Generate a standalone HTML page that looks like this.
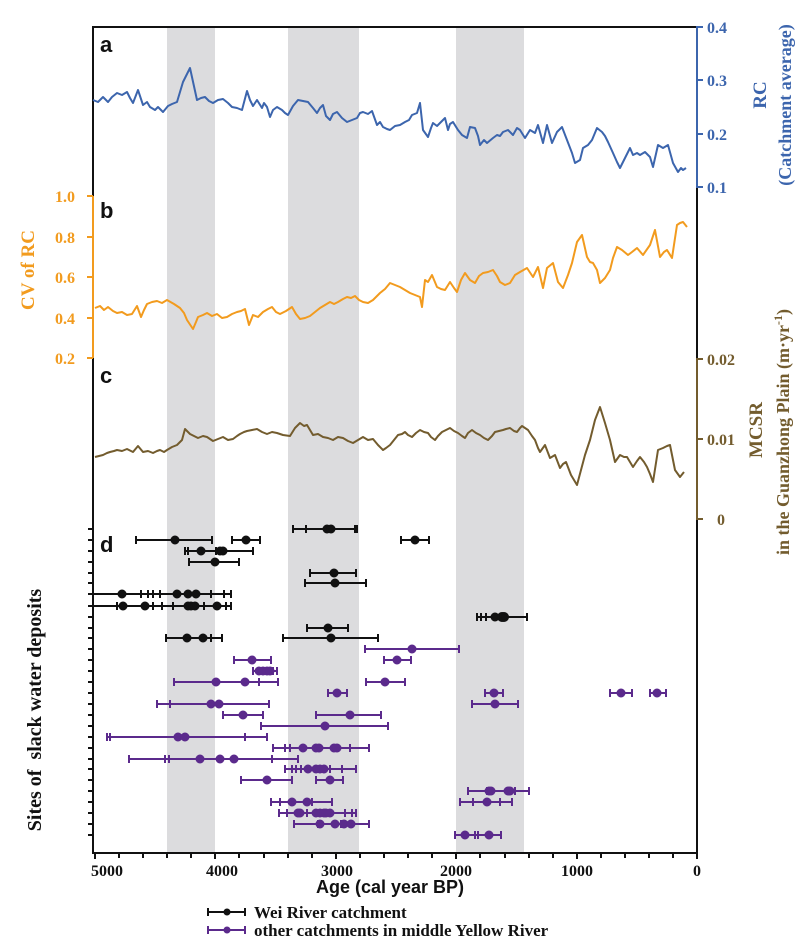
<!DOCTYPE html>
<html><head><meta charset="utf-8"><style>
html,body{margin:0;padding:0;background:#fff;}
svg{display:block;}
.ser{font-family:"Liberation Serif",serif;font-weight:bold;}
.san{font-family:"Liberation Sans",sans-serif;font-weight:bold;}
</style></head><body>
<svg width="799" height="951" viewBox="0 0 799 951" xmlns="http://www.w3.org/2000/svg">
<rect x="167" y="27" width="48" height="826" fill="#dcdcde"/>
<rect x="288" y="27" width="71" height="826" fill="#dcdcde"/>
<rect x="456" y="27" width="68" height="826" fill="#dcdcde"/>

<line x1="93" y1="27" x2="697" y2="27" stroke="#111" stroke-width="2"/>
<line x1="93" y1="26" x2="93" y2="196" stroke="#111" stroke-width="2"/>
<line x1="93" y1="196" x2="93" y2="358" stroke="#f29b1e" stroke-width="2"/>
<line x1="93" y1="358" x2="93" y2="854" stroke="#111" stroke-width="2"/>
<line x1="92" y1="853" x2="698" y2="853" stroke="#111" stroke-width="2"/>
<line x1="697" y1="26" x2="697" y2="188" stroke="#3c65ad" stroke-width="2"/>
<line x1="697" y1="188" x2="697" y2="358" stroke="#111" stroke-width="2"/>
<line x1="697" y1="358" x2="697" y2="520" stroke="#735c2e" stroke-width="2"/>
<line x1="697" y1="520" x2="697" y2="854" stroke="#111" stroke-width="2"/>

<g stroke="#3c65ad" stroke-width="2">
<line x1="697" y1="27" x2="703" y2="27"/><line x1="697" y1="80" x2="703" y2="80"/>
<line x1="697" y1="134" x2="703" y2="134"/><line x1="697" y1="187" x2="703" y2="187"/>
</g>
<g class="ser" fill="#3c65ad" font-size="16">
<text x="707" y="33">0.4</text><text x="707" y="86">0.3</text>
<text x="707" y="140">0.2</text><text x="707" y="193">0.1</text>
</g>
<text class="ser" fill="#3c65ad" font-size="19" transform="translate(766,95) rotate(-90)" text-anchor="middle">RC</text>
<text class="ser" fill="#3c65ad" font-size="18" transform="translate(791,105) rotate(-90)" text-anchor="middle">(Catchment average)</text>

<g stroke="#f29b1e" stroke-width="2">
<line x1="87" y1="196" x2="93" y2="196"/><line x1="87" y1="237" x2="93" y2="237"/>
<line x1="87" y1="277" x2="93" y2="277"/><line x1="87" y1="318" x2="93" y2="318"/>
<line x1="87" y1="358" x2="93" y2="358"/>
</g>
<g class="ser" fill="#f29b1e" font-size="16" text-anchor="end">
<text x="75" y="202">1.0</text><text x="75" y="243">0.8</text><text x="75" y="283">0.6</text>
<text x="75" y="324">0.4</text><text x="75" y="364">0.2</text>
</g>
<text class="ser" fill="#f29b1e" font-size="19" transform="translate(34,270) rotate(-90)" text-anchor="middle">CV of RC</text>

<g stroke="#735c2e" stroke-width="2">
<line x1="697" y1="359" x2="703" y2="359"/><line x1="697" y1="439" x2="703" y2="439"/>
<line x1="697" y1="519" x2="703" y2="519"/>
</g>
<g class="ser" fill="#735c2e" font-size="16">
<text x="707" y="365">0.02</text><text x="707" y="445">0.01</text><text x="717" y="525">0</text>
</g>
<text class="ser" fill="#735c2e" font-size="19" transform="translate(762,430) rotate(-90)" text-anchor="middle">MCSR</text>
<text class="ser" fill="#735c2e" font-size="18" transform="translate(789,432) rotate(-90)" text-anchor="middle">in the Guanzhong Plain (m·yr<tspan baseline-shift="super" font-size="12">-1</tspan>)</text>

<g class="san" font-size="22" fill="#111">
<text x="100" y="52">a</text><text x="100" y="218">b</text><text x="100" y="383">c</text><text x="100" y="552">d</text>
</g>

<polyline fill="none" stroke="#3c65ad" stroke-width="2" stroke-linejoin="round" points="93,100 98,102 103,97 108,102 112,97 117,93 122,95 127,92 130,98 133,103 138,90 143,105 147,102 150,107 155,110 158,107 163,112 168,106 172,104 177,102 183,82 190,68 197,100 201,98 205,97 209,101 213,103 218,100 223,99 228,103 232,107 237,108 242,110 247,91 250,100 253,106 257,100 262,108 264,103 267,107 270,117 273,110 277,107 282,110 285,113 288,115 293,106 298,100 303,101 308,102 313,108 317,113 320,108 323,105 326,116 330,120 333,114 337,112 342,118 347,122 352,120 357,118 360,113 363,112 368,114 372,111 377,125 380,122 383,127 387,129 390,130 395,126 400,125 405,122 409,120 412,115 417,113 420,103 423,130 428,137 431,128 433,123 437,126 440,123 445,118 448,130 450,124 453,122 458,130 462,135 467,138 470,127 475,128 478,136 480,145 484,140 487,143 493,138 497,135 500,136 503,132 508,130 513,135 517,128 520,130 525,138 530,130 535,133 538,125 543,143 547,125 552,143 557,132 562,127 567,140 572,153 575,163 580,160 583,148 588,145 592,140 597,128 602,132 605,136 608,142 613,153 617,162 620,168 625,158 630,148 633,155 637,153 640,155 645,152 650,157 653,167 658,145 663,148 668,145 673,163 678,172 681,168 683,170 686,168"/>

<polyline fill="none" stroke="#f29b1e" stroke-width="2" stroke-linejoin="round" points="95,308 100,306 104,310 108,307 113,311 117,313 122,312 127,315 132,314 137,306 141,317 144,310 147,304 152,302 157,301 162,303 167,300 174,304 180,308 184,313 187,320 193,329 196,322 198,317 203,315 207,313 212,316 217,314 222,318 227,317 232,314 237,312 241,311 245,309 249,325 253,315 258,317 263,312 268,309 272,307 276,312 280,314 286,311 292,307 296,314 300,319 305,318 310,316 315,312 320,308 325,305 330,302 334,304 338,302 343,299 347,297 351,298 355,296 359,300 363,302 368,303 373,300 377,296 380,293 385,289 390,283 395,285 400,287 405,290 410,293 415,295 420,297 422,307 425,280 428,282 432,275 437,287 441,289 445,290 450,282 454,288 457,292 461,280 465,273 470,280 475,283 479,276 483,273 488,272 493,270 497,276 500,282 505,285 510,283 515,275 520,272 527,268 533,277 538,267 543,288 547,268 553,263 558,282 563,288 568,275 572,263 577,242 582,235 587,257 590,262 593,263 597,270 600,283 605,278 610,270 613,258 617,247 622,250 628,255 632,252 637,248 643,255 650,245 655,230 660,257 664,252 667,250 672,258 677,225 680,223 683,222 687,227"/>

<polyline fill="none" stroke="#735c2e" stroke-width="2" stroke-linejoin="round" points="95,457 99,456 103,455 107,453 110,452 114,451 117,450 122,451 127,449 133,452 138,446 143,452 148,451 153,453 157,451 160,450 164,452 167,450 172,447 177,445 182,440 185,429 190,434 194,436 198,438 203,436 207,437 210,439 213,441 218,439 223,437 228,440 233,439 237,436 240,434 244,432 247,431 252,430 257,429 262,432 267,434 272,432 277,433 283,435 290,436 295,428 300,423 304,426 307,425 313,435 318,434 323,437 328,438 333,440 338,437 343,438 348,441 353,443 358,440 363,437 368,440 373,439 378,445 383,450 386,448 390,445 394,440 398,435 402,434 405,432 408,435 412,437 416,433 420,430 424,432 428,433 431,437 435,440 438,436 442,432 446,430 450,428 454,431 458,433 462,436 465,438 468,433 472,430 476,433 480,435 484,438 488,440 492,436 495,432 499,431 503,430 506,429 510,428 514,431 517,432 520,428 522,426 525,428 528,430 532,436 535,440 538,448 540,452 545,445 550,458 555,455 560,468 563,464 566,462 571,475 574,480 577,485 581,470 585,455 590,440 595,420 600,407 605,423 610,440 615,462 620,455 624,457 627,457 630,462 633,467 637,461 640,457 644,462 647,467 650,474 653,482 658,450 663,448 667,446 670,445 675,470 680,477 684,472"/>

<g stroke="#111" stroke-width="2">
<line x1="88" y1="529" x2="93" y2="529"/><line x1="88" y1="540" x2="93" y2="540"/><line x1="88" y1="551" x2="93" y2="551"/><line x1="88" y1="562" x2="93" y2="562"/><line x1="88" y1="573" x2="93" y2="573"/><line x1="88" y1="583" x2="93" y2="583"/><line x1="88" y1="594" x2="93" y2="594"/><line x1="88" y1="606" x2="93" y2="606"/><line x1="88" y1="617" x2="93" y2="617"/><line x1="88" y1="628" x2="93" y2="628"/><line x1="88" y1="638" x2="93" y2="638"/><line x1="88" y1="649" x2="93" y2="649"/><line x1="88" y1="660" x2="93" y2="660"/><line x1="88" y1="671" x2="93" y2="671"/><line x1="88" y1="682" x2="93" y2="682"/><line x1="88" y1="693" x2="93" y2="693"/><line x1="88" y1="704" x2="93" y2="704"/><line x1="88" y1="715" x2="93" y2="715"/><line x1="88" y1="726" x2="93" y2="726"/><line x1="88" y1="737" x2="93" y2="737"/><line x1="88" y1="748" x2="93" y2="748"/><line x1="88" y1="759" x2="93" y2="759"/><line x1="88" y1="769" x2="93" y2="769"/><line x1="88" y1="780" x2="93" y2="780"/><line x1="88" y1="791" x2="93" y2="791"/><line x1="88" y1="802" x2="93" y2="802"/><line x1="88" y1="813" x2="93" y2="813"/><line x1="88" y1="824" x2="93" y2="824"/><line x1="88" y1="835" x2="93" y2="835"/>
</g>
<text class="ser" fill="#111" font-size="20" transform="translate(41,710) rotate(-90)" text-anchor="middle" xml:space="preserve">Sites of  slack water deposits</text>

<g stroke="#111" stroke-width="2">
<line x1="95" y1="853" x2="95" y2="859"/><line x1="119" y1="853" x2="119" y2="858"/><line x1="143" y1="853" x2="143" y2="858"/><line x1="167" y1="853" x2="167" y2="858"/><line x1="191" y1="853" x2="191" y2="858"/><line x1="215" y1="853" x2="215" y2="859"/><line x1="239" y1="853" x2="239" y2="858"/><line x1="264" y1="853" x2="264" y2="858"/><line x1="288" y1="853" x2="288" y2="858"/><line x1="312" y1="853" x2="312" y2="858"/><line x1="336" y1="853" x2="336" y2="859"/><line x1="360" y1="853" x2="360" y2="858"/><line x1="384" y1="853" x2="384" y2="858"/><line x1="408" y1="853" x2="408" y2="858"/><line x1="432" y1="853" x2="432" y2="858"/><line x1="456" y1="853" x2="456" y2="859"/><line x1="480" y1="853" x2="480" y2="858"/><line x1="505" y1="853" x2="505" y2="858"/><line x1="529" y1="853" x2="529" y2="858"/><line x1="553" y1="853" x2="553" y2="858"/><line x1="577" y1="853" x2="577" y2="859"/><line x1="601" y1="853" x2="601" y2="858"/><line x1="625" y1="853" x2="625" y2="858"/><line x1="649" y1="853" x2="649" y2="858"/><line x1="673" y1="853" x2="673" y2="858"/><line x1="697" y1="853" x2="697" y2="859"/>
</g>
<g class="ser" fill="#111" font-size="16" text-anchor="middle">
<text x="107" y="876">5000</text><text x="222" y="876">4000</text><text x="337" y="876">3000</text><text x="456" y="876">2000</text><text x="577" y="876">1000</text><text x="697" y="876">0</text>
</g>
<text class="san" fill="#111" font-size="18" x="390" y="893" text-anchor="middle">Age (cal year BP)</text>

<g stroke="#111" stroke-width="2"><line x1="208" y1="912" x2="245" y2="912"/><line x1="208" y1="908" x2="208" y2="916"/><line x1="245" y1="908" x2="245" y2="916"/></g>
<circle cx="227" cy="912" r="3.5" fill="#111"/>
<g stroke="#5b2a8c" stroke-width="2"><line x1="208" y1="930" x2="245" y2="930"/><line x1="208" y1="926" x2="208" y2="934"/><line x1="245" y1="926" x2="245" y2="934"/></g>
<circle cx="227" cy="930" r="3.5" fill="#5b2a8c"/>
<g class="ser" fill="#111" font-size="17">
<text x="254" y="918">Wei River catchment</text>
<text x="254" y="936">other catchments in middle Yellow River</text>
</g>

<g stroke="#111" stroke-width="2" fill="#111">
<path d="M293,529H357M293,525v8M306,525v8M355,525v8M357,525v8"/><circle cx="327" cy="529" r="3.5"/><circle cx="331" cy="529" r="3.5"/>
<path d="M136,540H212M136,536v8M212,536v8"/><circle cx="175" cy="540" r="3.5"/>
<path d="M232,540H260M232,536v8M260,536v8"/><circle cx="246" cy="540" r="3.5"/>
<path d="M401,540H429M401,536v8M429,536v8"/><circle cx="415" cy="540" r="3.5"/>
<path d="M185,551H253M185,547v8M188,547v8M216,547v8M253,547v8"/><circle cx="201" cy="551" r="3.5"/><circle cx="220" cy="551" r="3.5"/><circle cx="223" cy="551" r="3.5"/>
<path d="M189,562H239M189,558v8M239,558v8"/><circle cx="215" cy="562" r="3.5"/>
<path d="M310,573H356M310,569v8M356,569v8"/><circle cx="334" cy="573" r="3.5"/>
<path d="M305,583H366M305,579v8M366,579v8"/><circle cx="335" cy="583" r="3.5"/>
<path d="M93,594H231M141,590v8M148,590v8M153,590v8M160,590v8M211,590v8M224,590v8M231,590v8"/><circle cx="122" cy="594" r="3.5"/><circle cx="177" cy="594" r="3.5"/><circle cx="188" cy="594" r="3.5"/><circle cx="196" cy="594" r="3.5"/>
<path d="M93,606H231M117,602v8M153,602v8M162,602v8M173,602v8M204,602v8M226,602v8M231,602v8"/><circle cx="123" cy="606" r="3.5"/><circle cx="145" cy="606" r="3.5"/><circle cx="188" cy="606" r="3.5"/><circle cx="191" cy="606" r="3.5"/><circle cx="195" cy="606" r="3.5"/><circle cx="217" cy="606" r="3.5"/>
<path d="M477,617H527M477,613v8M481,613v8M486,613v8M527,613v8"/><circle cx="495" cy="617" r="3.5"/><circle cx="502" cy="617" r="4"/><circle cx="504" cy="617" r="4"/>
<path d="M307,628H348M307,624v8M348,624v8"/><circle cx="328" cy="628" r="3.5"/>
<path d="M166,638H222M166,634v8M211,634v8M222,634v8"/><circle cx="187" cy="638" r="3.5"/><circle cx="203" cy="638" r="3.5"/>
<path d="M283,638H378M283,634v8M378,634v8"/><circle cx="331" cy="638" r="3.5"/>
</g>
<g stroke="#5b2a8c" stroke-width="2" fill="#5b2a8c">
<path d="M365,649H459M365,645v8M459,645v8"/><circle cx="412" cy="649" r="3.5"/>
<path d="M234,660H271M234,656v8M271,656v8"/><circle cx="252" cy="660" r="3.5"/>
<path d="M384,660H411M384,656v8M411,656v8"/><circle cx="397" cy="660" r="3.5"/>
<path d="M253,671H277M253,667v8M277,667v8M273,667v8"/><circle cx="259" cy="671" r="3.5"/><circle cx="263" cy="671" r="3.5"/><circle cx="267" cy="671" r="3.5"/><circle cx="270" cy="671" r="3.5"/>
<path d="M174,682H278M174,678v8M259,678v8M278,678v8"/><circle cx="216" cy="682" r="3.5"/><circle cx="245" cy="682" r="3.5"/>
<path d="M366,682H405M366,678v8M405,678v8"/><circle cx="385" cy="682" r="3.5"/>
<path d="M328,693H347M328,689v8M347,689v8"/><circle cx="337" cy="693" r="3.5"/>
<path d="M485,693H503M485,689v8M503,689v8"/><circle cx="494" cy="693" r="3.5"/>
<path d="M610,693H632M610,689v8M632,689v8"/><circle cx="621" cy="693" r="3.5"/>
<path d="M650,693H666M650,689v8M666,689v8"/><circle cx="657" cy="693" r="3.5"/>
<path d="M157,704H269M157,700v8M170,700v8M269,700v8"/><circle cx="211" cy="704" r="3.5"/><circle cx="219" cy="704" r="3.5"/>
<path d="M472,704H518M472,700v8M518,700v8"/><circle cx="495" cy="704" r="3.5"/>
<path d="M223,715H263M223,711v8M263,711v8"/><circle cx="243" cy="715" r="3.5"/>
<path d="M316,715H381M316,711v8M381,711v8"/><circle cx="350" cy="715" r="3.5"/>
<path d="M261,726H388M261,722v8M388,722v8"/><circle cx="325" cy="726" r="3.5"/>
<path d="M107,737H267M107,733v8M110,733v8M245,733v8M267,733v8"/><circle cx="178" cy="737" r="3.5"/><circle cx="185" cy="737" r="3.5"/>
<path d="M273,748H369M273,744v8M285,744v8M290,744v8M350,744v8M369,744v8"/><circle cx="303" cy="748" r="3.5"/><circle cx="316" cy="748" r="3.5"/><circle cx="319" cy="748" r="3.5"/><circle cx="334" cy="748" r="3.5"/><circle cx="337" cy="748" r="3.5"/>
<path d="M129,759H298M129,755v8M165,755v8M169,755v8M272,755v8M298,755v8"/><circle cx="200" cy="759" r="3.5"/><circle cx="220" cy="759" r="3.5"/><circle cx="234" cy="759" r="3.5"/>
<path d="M285,769H356M285,765v8M292,765v8M296,765v8M301,765v8M330,765v8M342,765v8M356,765v8"/><circle cx="308" cy="769" r="3.5"/><circle cx="316" cy="769" r="3.5"/><circle cx="320" cy="769" r="3.5"/><circle cx="324" cy="769" r="3.5"/>
<path d="M241,780H292M241,776v8M292,776v8"/><circle cx="267" cy="780" r="3.5"/>
<path d="M316,780H343M316,776v8M343,776v8"/><circle cx="330" cy="780" r="3.5"/>
<path d="M468,791H529M468,787v8M487,787v8M515,787v8M529,787v8"/><circle cx="489" cy="791" r="3.5"/><circle cx="491" cy="791" r="3.5"/><circle cx="508" cy="791" r="3.5"/><circle cx="510" cy="791" r="3.5"/>
<path d="M271,802H332M271,798v8M280,798v8M312,798v8M332,798v8"/><circle cx="292" cy="802" r="3.5"/><circle cx="307" cy="802" r="3.5"/>
<path d="M460,802H512M460,798v8M473,798v8M500,798v8M512,798v8"/><circle cx="487" cy="802" r="3.5"/>
<path d="M279,813H356M279,809v8M287,809v8M307,809v8M345,809v8M352,809v8M356,809v8"/><circle cx="298" cy="813" r="3.5"/><circle cx="300" cy="813" r="3.5"/><circle cx="316" cy="813" r="3.5"/><circle cx="320" cy="813" r="3.5"/><circle cx="324" cy="813" r="3.5"/><circle cx="326" cy="813" r="3.5"/><circle cx="330" cy="813" r="3.5"/>
<path d="M294,824H369M294,820v8M318,820v8M341,820v8M369,820v8"/><circle cx="320" cy="824" r="3.5"/><circle cx="335" cy="824" r="3.5"/><circle cx="344" cy="824" r="3.5"/><circle cx="351" cy="824" r="3.5"/>
<path d="M455,835H501M455,831v8M475,831v8M478,831v8M501,831v8"/><circle cx="465" cy="835" r="3.5"/><circle cx="489" cy="835" r="3.5"/>
</g>
</svg>
</body></html>
